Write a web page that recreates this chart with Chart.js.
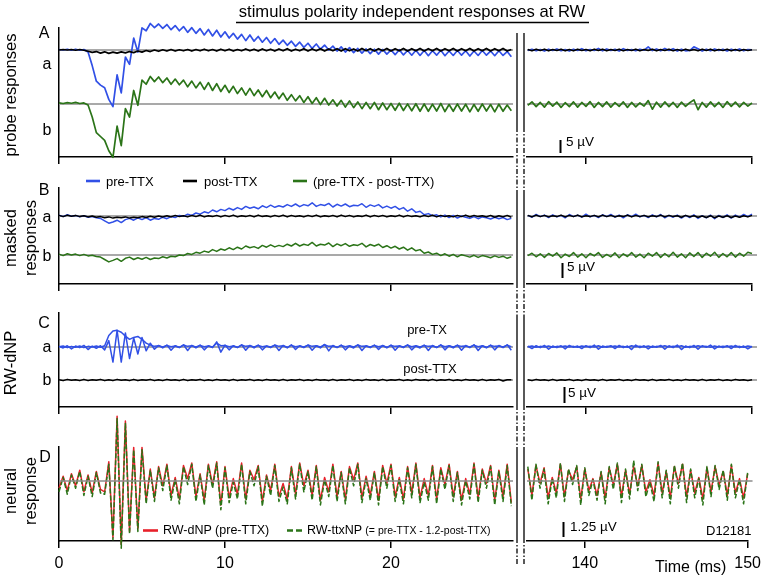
<!DOCTYPE html>
<html>
<head>
<meta charset="utf-8">
<script src="https://cdn.jsdelivr.net/npm/chart.js@4.4.0/dist/chart.umd.min.js"></script>
<style>
  body { margin: 0; background: #fff; }
  #fig { position: relative; width: 767px; height: 578px; overflow: hidden; font-family: "Liberation Sans", Arial, Helvetica, sans-serif; color: #000; }
  #fig canvas { position: absolute; }
  #fig svg { position: absolute; left: 0; top: 0; }
  .t { position: absolute; white-space: nowrap; line-height: 1; }
  .c { transform: translate(-50%, -50%); }
  .l { transform: translateY(-50%); }
  .r { transform: translate(-50%, -50%) rotate(-90deg); }
</style>
</head>
<body>
<div id="fig">
  <svg width="767" height="578">
    <!-- title underline -->
    <line x1="236" y1="22.5" x2="589" y2="22.5" stroke="#000" stroke-width="1.5"/>
    <!-- axis break marks -->
    <g stroke="#000" stroke-width="1.3">
      <path d="M517 33V127M524 33V127M517 192V283M524 192V283M517 318V405M524 318V405M517 452V538M524 452V538"/>
      <path stroke-dasharray="5 2 1.5 2" d="M517 127V192M524 127V192M517 283V318M524 283V318M517 405V452M524 405V452M517 538V566M524 538V566"/>
    </g>
    <!-- legend samples -->
    <line x1="86" y1="181" x2="100" y2="181" stroke="#3150e6" stroke-width="2.6"/>
    <line x1="183" y1="181" x2="197" y2="181" stroke="#000" stroke-width="2.6"/>
    <line x1="293" y1="181" x2="307" y2="181" stroke="#2b7418" stroke-width="2.6"/>
    <line x1="143" y1="530.5" x2="158" y2="530.5" stroke="#e8202a" stroke-width="2.6"/>
    <line x1="287" y1="530.5" x2="303" y2="530.5" stroke="#2b7418" stroke-width="2.6" stroke-dasharray="6 3"/>
  </svg>

  <div class="t c" style="left:412px;top:12px;font-size:16.6px">stimulus polarity independent responses at RW</div>

  <div class="t r" style="left:10px;top:95px;font-size:16.5px">probe responses</div>
  <div class="t r" style="left:10px;top:238px;font-size:16.5px">masked</div>
  <div class="t r" style="left:30px;top:238px;font-size:16.5px">responses</div>
  <div class="t r" style="left:10px;top:363px;font-size:16.5px">RW-dNP</div>
  <div class="t r" style="left:10px;top:491px;font-size:16.5px">neural</div>
  <div class="t r" style="left:30px;top:491px;font-size:16.5px">response</div>

  <div class="t c" style="left:44px;top:33px;font-size:16px">A</div>
  <div class="t c" style="left:47px;top:64px;font-size:16px">a</div>
  <div class="t c" style="left:47px;top:130px;font-size:16px">b</div>
  <div class="t c" style="left:44px;top:190px;font-size:16px">B</div>
  <div class="t c" style="left:47px;top:217px;font-size:16px">a</div>
  <div class="t c" style="left:47px;top:256px;font-size:16px">b</div>
  <div class="t c" style="left:44px;top:323px;font-size:16px">C</div>
  <div class="t c" style="left:47px;top:347px;font-size:16px">a</div>
  <div class="t c" style="left:47px;top:380px;font-size:16px">b</div>
  <div class="t c" style="left:45px;top:457px;font-size:16px">D</div>

  <div class="t l" style="left:106px;top:181px;font-size:13px">pre-TTX</div>
  <div class="t l" style="left:204px;top:181px;font-size:13px">post-TTX</div>
  <div class="t l" style="left:313px;top:181px;font-size:13px">(pre-TTX - post-TTX)</div>

  <div class="t c" style="left:427px;top:329px;font-size:13px">pre-TX</div>
  <div class="t c" style="left:430px;top:368px;font-size:13px">post-TTX</div>

  <div class="t l" style="left:163px;top:530px;font-size:12.5px">RW-dNP (pre-TTX)</div>
  <div class="t l" style="left:307px;top:530px;font-size:12.5px">RW-ttxNP <span style="font-size:10.5px">(= pre-TTX - 1.2-post-TTX)</span></div>

  <div class="t l" style="left:566px;top:142px;font-size:13.5px">5 µV</div>
  <div class="t l" style="left:567px;top:267px;font-size:13.5px">5 µV</div>
  <div class="t l" style="left:568px;top:393px;font-size:13.5px">5 µV</div>
  <div class="t l" style="left:570px;top:527px;font-size:13.5px">1.25 µV</div>
  <div class="t l" style="left:706px;top:530px;font-size:13px">D12181</div>
  <div class="t l" style="left:655px;top:567px;font-size:16px">Time (ms)</div>
</div>

<script>
// sampling grid (ms)
const dt = 0.25;
const leftStart = 0;
const rightStart = 136.5;
const leftRange = [0, 27.35];
const rightRange = [136.45, 150];
const leftTicks = [0, 10, 20];
const rightTicks = [140, 150];

// ---- A: probe responses (uV, relative to trace baseline) ----
const aBlueL = [0.2,0,0.3,-0.1,0.3,-0.1,0.2,-0.8,-6,-12,
  -13.5,-14.5,-19,-21.8,-9.6,-16.5,-2.7,-5.5,4.6,-0.8,
  8.5,7.4,10.2,8.6,10,8.3,9.8,7.8,9.4,7.4,
  9,6.8,8.6,6.4,8.2,5.8,7.9,5.4,7.6,5,
  7,4.6,6.4,4.2,6,3.6,5.8,3.4,5.2,3,
  4.8,2.6,4.4,2.2,3.8,1.8,3.4,1.4,3,1,
  2.6,0.6,2.3,0.3,1.9,0,1.5,-0.4,1.2,-0.8,
  0.9,-1,0.6,-1.2,0.4,-1.4,0.3,-1.6,0.2,-1.6,
  0,-1.8,0.1,-1.9,-0.2,-2,-0.1,-2.1,-0.2,-2.2,
  -0.3,-2,-0.1,-2.2,-0.4,-2.1,-0.2,-2,-0.3,-2.3,
  -0.4,-2.1,-0.2,-2,-0.4,-2.2,-0.3,-2.1,-0.6,-2.6];
const aBlueR = [-0.2,0.3,-0.3,0.2,-0.4,0.3,-0.2,0.4,-0.3,0.2,
  -0.4,0.3,-0.2,0.5,-0.3,0.2,-0.2,0.6,-0.3,0.4,
  -0.2,0.3,-0.4,0.5,-0.2,0.2,-0.3,0.3,-0.1,1.2,
  -0.2,0.4,-0.3,0.6,-0.2,0.5,-0.4,0.3,-0.3,-0.2,
  1.2,0.5,-0.4,0.3,-0.3,0.4,-0.2,0.3,-0.4,0.3,
  -0.2,0.4,-0.3,0.2,0.1];
const aBlackL = [0,0.2,0,0.2,-0.1,0.2,-0.1,-0.5,-0.9,-0.6,
  -1.2,-0.7,-1.3,-0.8,-1.2,-0.7,-1.1,-0.6,-1,-0.4,
  -0.8,-0.2,-0.6,0,-0.5,0.1,-0.4,0.2,-0.4,0.1,
  -0.3,0.2,-0.4,0.2,-0.3,0.3,-0.3,0.2,-0.4,0.3,
  -0.3,0.3,-0.4,0.2,-0.3,0.4,-0.3,0.3,-0.4,0.4,
  -0.3,0.3,-0.4,0.4,-0.3,0.5,-0.4,0.3,-0.3,0.5,
  -0.4,0.4,-0.3,0.5,-0.4,0.4,-0.3,0.5,-0.4,0.5,
  -0.3,0.4,-0.4,0.6,-0.3,0.5,-0.4,0.5,-0.3,0.6,
  -0.4,0.5,-0.3,0.6,-0.4,0.5,-0.3,0.6,-0.4,0.5,
  -0.3,0.6,-0.4,0.5,-0.3,0.6,-0.4,0.5,-0.3,0.6,
  -0.4,0.5,-0.3,0.6,-0.4,0.5,-0.3,0.6,-0.4,0.2];
const aBlackR = [0.2,-0.3,0.3,-0.2,0.3,-0.3,0.2,-0.2,0.3,-0.3,
  0.2,-0.3,0.3,-0.2,0.2,-0.3,0.3,-0.2,0.3,-0.3,
  0.2,-0.2,0.3,-0.3,0.2,-0.2,0.3,-0.3,0.2,-0.2,
  0.3,-0.3,0.2,-0.2,0.3,-0.3,0.2,-0.3,0.3,-0.2,
  0.2,-0.3,0.3,-0.2,0.3,-0.3,0.2,-0.2,0.3,-0.3,
  0.2,-0.3,0.2,-0.2,0.1];
const aGreenL = [0.4,0.2,0.5,0.3,0.6,0.2,0.4,-0.4,-5,-11,
  -12.5,-14,-18,-20.5,-8.5,-16,-1.8,-5,5.2,-0.5,
  9.2,7.6,10.6,8.6,10.4,8.2,10,7.6,9.6,7.4,
  9.2,6.6,8.8,6.2,8.4,5.6,8.2,5.2,7.8,4.8,
  7.2,4.4,6.8,4,6.2,3.4,6,3.2,5.4,2.8,
  5.2,2.4,4.6,2,4.2,1.4,3.6,1.2,3.2,0.6,
  2.8,0.2,2.4,-0.2,2.2,-0.4,1.6,-0.8,1.4,-1.2,
  1.2,-1.4,0.8,-1.8,0.6,-1.8,0.6,-2.2,0.4,-2.2,
  0.2,-2.4,0.3,-2.5,0,-2.6,0.1,-2.8,0,-2.8,
  -0.1,-2.7,0.2,-2.9,-0.2,-2.8,0,-2.7,-0.1,-3,
  -0.2,-2.8,0,-2.7,-0.2,-3,-0.1,-2.8,-0.4,-2.6];
const aGreenR = [-0.5,0.8,-1,0.6,-1.2,0.9,-0.8,0.7,-1.3,0.5,
  -1,0.8,-1.2,0.6,-0.9,0.9,-1.3,0.6,-1,0.8,
  -1.2,0.5,-0.9,0.8,-1.3,0.6,-1.1,0.4,-0.8,1.3,
  -2,0.7,-1.2,0.8,-1,0.6,-1.3,0.7,-0.9,0.5,
  1.6,-2.2,0.6,-1.2,0.8,-1,0.6,-1.3,0.9,-0.9,
  0.7,-1.1,0.6,-0.8,0.4];

// ---- B: masked responses ----
const bBlueL = [0.3,-0.2,0.4,-0.1,0.2,-0.3,0.1,-0.4,-0.2,-0.6,
  -0.8,-1.6,-2.4,-2,-1.4,-2.2,-1.2,-0.8,-1.4,-0.6,
  -1.2,-0.5,-1.4,-0.8,-1.1,-0.4,-0.9,-0.2,-0.5,0.2,
  -0.1,0.6,0.2,1,0.6,1.4,1,2,1.4,2.2,
  1.8,2.6,2,2.8,2.2,3.2,2.6,3,2.4,3.4,
  2.8,3.6,2.9,3.4,3,3.8,3.2,4,3.1,3.8,
  3.4,4.4,3.2,3.8,3.5,4.2,3,3.9,3.3,4,
  3.1,3.6,3.4,4.1,2.9,3.7,3.2,3.8,2.7,3.3,
  2.6,3.2,2.2,2.8,1.6,2.4,1.2,1.6,0.4,0.8,
  0.1,0.4,-0.3,0.3,-0.5,0.2,-0.7,0,-0.4,-0.8,
  -0.2,-0.9,-0.3,-0.6,-1,-0.4,-0.9,-0.5,-1.2,-0.8];
const bBlueR = [0.2,-0.4,0.5,-0.2,0.3,-0.5,0.4,-0.3,0.2,-0.6,
  0.5,-0.2,0.3,-0.4,0.6,-0.3,0.2,-0.5,0.4,-0.2,
  0.5,-0.4,0.3,-0.6,0.4,-0.2,0.6,-0.3,0.2,-0.5,
  0.4,-0.3,0.5,-0.6,0.2,-0.4,0.3,-0.7,0.2,-0.5,
  0.4,-0.8,0.1,-0.6,0.3,-0.9,0.2,-0.5,0.4,-0.7,
  0.3,-0.4,0.5,-0.2,0.6];
const bBlackL = [0.2,-0.2,0.3,-0.1,0.2,-0.2,0.1,-0.3,0,-0.4,
  -0.2,-0.6,-0.3,-0.7,-0.4,-0.6,-0.3,-0.7,-0.4,-0.6,
  -0.2,-0.5,-0.1,-0.4,0,-0.3,0.1,-0.3,0.2,-0.2,
  0.1,-0.3,0.2,-0.2,0.3,-0.3,0.1,-0.2,0.2,-0.3,
  0.2,-0.2,0.3,-0.3,0.1,-0.2,0.2,-0.3,0.3,-0.2,
  0.1,-0.3,0.2,-0.2,0.3,-0.3,0.2,-0.2,0.1,-0.3,
  0.2,-0.2,0.3,-0.3,0.1,-0.2,0.2,-0.3,0.3,-0.2,
  0.2,-0.3,0.1,-0.2,0.3,-0.3,0.2,-0.2,0.2,-0.3,
  0.1,-0.2,0.3,-0.3,0.2,-0.2,0.1,-0.3,0.2,-0.2,
  0.3,-0.3,0.2,-0.2,0.1,-0.3,0.2,-0.2,0.3,-0.3,
  0.2,-0.2,0.1,-0.3,0.2,-0.4,0.1,-0.3,0.2,-0.4];
const bBlackR = [0.2,-0.3,0.3,-0.2,0.2,-0.3,0.1,-0.2,0.3,-0.3,
  0.2,-0.2,0.3,-0.3,0.1,-0.2,0.2,-0.3,0.3,-0.2,
  0.2,-0.3,0.1,-0.2,0.3,-0.3,0.2,-0.2,0.2,-0.3,
  0.1,-0.2,0.3,-0.3,0.2,-0.2,0.1,-0.4,0.2,-0.3,
  0.1,-0.4,0,-0.5,0.1,-0.6,0,-0.4,0.1,-0.5,
  0,-0.4,0.1,-0.3,0.2];
const bGreenL = [0.3,-0.2,0.4,0,0.3,-0.2,0.2,-0.3,-0.1,-0.5,
  -0.7,-1.5,-2.3,-1.8,-1.2,-2.1,-1.1,-0.7,-1.5,-0.9,
  -1.4,-0.8,-1.5,-1,-1.2,-0.6,-1,-0.4,-0.6,0,
  -0.2,0.5,0.2,0.9,0.6,1.3,0.9,1.8,1.2,2,
  1.6,2.4,1.8,2.6,2,3,2.4,2.8,2.2,3.2,
  2.6,3.4,2.7,3.2,2.8,3.6,3,3.9,3,3.6,
  3.2,4.2,3,3.6,3.3,4,2.8,3.7,3.1,3.8,
  2.9,3.4,3.2,3.9,2.7,3.5,3,3.6,2.5,3.1,
  2.3,2.9,2,2.6,1.6,2.4,1.4,1.8,0.6,1,
  0.2,0.6,-0.2,0.4,-0.4,0.2,-0.6,0.1,-0.3,-0.7,
  -0.1,-0.8,-0.2,-0.5,-0.9,-0.3,-0.8,-0.4,-1.1,-0.6];
const bGreenR = [-0.2,0.6,-0.6,0.4,-0.8,0.5,-0.4,0.7,-0.9,0.3,
  -0.5,0.8,-0.7,0.4,-0.9,0.5,-0.3,0.8,-0.8,0.2,
  -0.6,0.7,-0.9,0.4,-0.5,0.8,-0.7,0.3,-0.9,0.6,
  -0.4,0.8,-0.8,0.5,-0.6,0.9,-0.7,0.4,-0.9,0.7,
  -0.5,0.8,-0.8,0.6,-0.4,0.9,-0.8,0.5,-0.6,0.8,
  -0.7,0.6,-0.4,0.9,0.5];

// ---- C: RW-dNP ----
const cBlue1L = [0.2,-0.3,0.4,-0.6,0.3,-0.2,0.5,-0.8,0.3,-0.4,
  0.4,-0.9,2,-4.7,5.2,-4.7,4.4,-3.6,2.8,-2.2,
  3,-1.2,1.2,-0.7,0.5,-0.3,0.6,-1,0.4,-0.2,
  0.7,-1.1,0.5,-0.3,0.6,-0.9,0.4,-0.2,1.6,-1.6,
  0.6,-0.9,0.4,-0.2,0.7,-1,0.5,-0.3,0.6,-0.9,
  0.3,-0.2,0.6,-1.1,0.5,-0.3,0.7,-0.8,0.4,-0.2,
  0.6,-1,0.4,-0.3,0.8,-1.2,0.5,-0.2,0.6,-0.9,
  0.3,-0.3,0.7,-1.1,0.4,-0.2,0.6,-0.8,0.5,-0.3,
  0.6,-1,0.4,-0.2,0.7,-0.9,0.3,-0.3,0.6,-1.1,
  0.5,-0.2,0.7,-0.9,0.4,-0.3,0.6,-1,0.5,-0.2,
  0.7,-1.1,0.4,-0.3,0.6,-0.9,0.5,-0.2,0.7,-1];
const cBlue2L = [0.1,0.3,-0.2,0.2,-0.1,0.3,-0.2,0.2,0,0.3,
  -0.1,0.4,3.6,5,5.2,4.6,3.4,2.4,3,3.3,
  2.4,1.2,0.6,0.2,0.4,0,0.5,0.1,0.3,-0.1,
  0.6,0.2,0.4,0,0.5,0.1,0.3,0,1.2,0.4,
  0.5,0.1,0.3,-0.1,0.6,0.2,0.4,0,0.5,0.1,
  0.3,0,0.6,0.2,0.4,-0.1,0.5,0.1,0.3,0,
  0.6,0.2,0.4,0,0.7,0.2,0.3,-0.1,0.5,0.1,
  0.4,0,0.6,0.2,0.3,0,0.5,0.1,0.4,-0.1,
  0.5,0.2,0.3,0,0.6,0.1,0.4,0,0.5,0.2,
  0.3,-0.1,0.6,0.1,0.4,0,0.5,0.2,0.3,0,
  0.6,0.1,0.4,-0.1,0.5,0.2,0.3,0,0.6,0.1];
const cBlue1R = [0.3,-0.5,0.4,-0.2,0.5,-0.7,0.3,-0.2,0.4,-0.6,
  0.5,-0.1,0.3,-0.5,0.4,-0.2,0.6,-0.7,0.3,-0.1,
  0.4,-0.5,0.5,-0.2,0.3,-0.8,0.6,-0.2,0.4,-0.6,
  0.3,-0.1,0.5,-0.7,0.4,-0.2,0.6,-0.8,0.3,-0.2,
  0.5,-0.7,0.4,-0.1,0.6,-0.6,0.3,-0.2,0.4,-0.5,
  0.5,-0.2,0.3,-0.6,0.2];
const cBlue2R = [0.1,0.3,-0.1,0.2,0,0.3,-0.1,0.2,0.1,0.3,
  0,0.2,-0.1,0.3,0.1,0.2,0,0.4,-0.1,0.2,
  0.1,0.3,0,0.2,-0.1,0.4,0.1,0.2,0,0.3,
  -0.1,0.2,0.1,0.4,0,0.2,0.1,0.4,-0.1,0.2,
  0,0.4,0.1,0.2,-0.1,0.3,0,0.2,0.1,0.3,
  0,0.2,-0.1,0.3,0.1];
const cBlackL = [0.1,-0.2,0.2,-0.1,0.1,-0.2,0.2,-0.2,0.1,-0.1,
  0.2,-0.2,0.1,-0.2,0.2,-0.1,0.1,-0.2,0.2,-0.2,
  0.1,-0.1,0.2,-0.2,0.1,-0.2,0.2,-0.1,0.1,-0.2,
  0.2,-0.2,0.1,-0.1,0.2,-0.2,0.1,-0.2,0.2,-0.1,
  0.1,-0.2,0.2,-0.2,0.1,-0.1,0.2,-0.2,0.1,-0.2,
  0.2,-0.1,0.1,-0.2,0.2,-0.2,0.1,-0.1,0.2,-0.2,
  0.1,-0.2,0.2,-0.1,0.1,-0.2,0.2,-0.2,0.1,-0.1,
  0.2,-0.2,0.1,-0.2,0.2,-0.1,0.1,-0.2,0.2,-0.2,
  0.1,-0.1,0.2,-0.2,0.1,-0.2,0.2,-0.1,0.1,-0.2,
  0.2,-0.2,0.1,-0.1,0.2,-0.2,0.1,-0.2,0.2,-0.1,
  0.1,-0.2,0.2,-0.2,0.1,-0.1,0.2,-0.3,0.1,0.1];
const cBlackR = [0.1,-0.2,0.2,-0.1,0.1,-0.2,0.2,-0.2,0.1,-0.1,
  0.2,-0.2,0.1,-0.2,0.2,-0.1,0.1,-0.2,0.2,-0.2,
  0.1,-0.1,0.2,-0.2,0.1,-0.2,0.2,-0.1,0.1,-0.2,
  0.2,-0.2,0.1,-0.1,0.2,-0.2,0.1,-0.2,0.2,-0.1,
  0.1,-0.2,0.2,-0.2,0.1,-0.1,0.2,-0.2,0.1,-0.2,
  0.2,-0.1,0.1,-0.2,0.1];

// ---- D: neural response ----
const dRedL = [-0.6,0.4,-0.8,0.6,-0.4,0.9,-0.9,0.5,-1,0.8,
  -0.7,-0.9,1.6,-4.7,5.4,-5.3,5,-4.2,2.8,-4,
  2.8,-1.6,1,-1.4,1.2,-0.4,1.4,-1.2,0.3,-1.5,
  1.3,0.2,1.5,-1.3,0.6,-1.6,1.4,-0.3,1.6,-2,
  1.2,-1.4,0.2,-1.1,1.5,-1.5,0.9,0.1,1.3,-1.7,
  0.5,-0.8,1.4,-1.3,-0.2,-1.5,1.2,-1.1,1.5,-0.4,
  0.9,-1.2,1.3,-1.6,0.3,-0.9,1.4,-1.3,0.8,-1.5,
  1.2,0.1,1.5,-1.4,0.4,-1.2,0.8,-1.6,1.3,-0.2,
  1.4,-1.3,0.3,-1.5,1.2,-1,1.5,-1.4,0.2,-1.2,
  1.3,-1.5,1.1,-0.3,1.4,-1.3,0.8,-1.6,0.2,-1.1,
  1.5,-1.4,1,-0.2,1.3,-1.6,0.9,-1.3,1.4,-1.8];
const dGreenL = [-0.9,0.3,-1.1,0.5,-0.6,0.8,-1.2,0.4,-1.3,0.7,
  -1,-1.1,1.4,-4.9,5.2,-5.6,4.8,-4.4,2.6,-4.2,
  2.6,-1.9,0.9,-1.7,1.1,-0.8,1.3,-1.6,0.1,-1.9,
  1.2,-0.3,1.4,-1.7,0.5,-2,1.3,-0.6,1.5,-2.4,
  1.1,-1.8,-0.1,-1.5,1.4,-1.9,0.8,-0.4,1.2,-2.1,
  0.4,-1.2,1.3,-1.7,-0.5,-1.9,1.1,-1.5,1.4,-0.9,
  0.8,-1.6,1.2,-2,0.1,-1.3,1.3,-1.7,0.7,-1.9,
  1.1,-0.4,1.4,-1.8,0.2,-1.6,0.7,-2,1.2,-0.6,
  1.3,-1.7,0.1,-1.9,1.1,-1.4,1.4,-1.8,-0.1,-1.6,
  1.2,-1.9,1,-0.7,1.3,-1.7,0.7,-2,0,-1.5,
  1.4,-1.8,0.9,-0.6,1.2,-2,0.8,-1.7,1.3,-2.1];
const dRedR = [1,-1.2,1.3,-0.2,1.1,-1.4,0.3,-1,1.4,-1.3,
  0.9,0.1,1.2,-1.5,1,-0.8,0.2,-1.2,0.7,-1.4,
  1.1,-0.3,1.4,-1.3,0.9,-1.1,1.2,-0.4,1.3,-0.9,
  0.1,-1.2,1.5,-1,0.8,-1.4,1.2,-0.2,1.4,-1.3,
  0.9,-1,0.3,-1.5,1.1,-0.9,1.2,-0.3,0.8,-1.2,
  1.3,-1,0.2,-1.4,0.6];
const dGreenR = [1.2,-1.6,1.4,-0.6,1,-1.9,0.2,-1.4,1.5,-1.7,
  1,-0.3,1.3,-2,1.1,-1.2,0.1,-1.6,0.8,-1.9,
  1.2,-0.7,1.5,-1.8,1,-1.5,1.7,-0.8,1.4,-1.3,
  -0.1,-1.7,1.6,-1.4,0.9,-1.9,1.3,-0.6,1.5,-1.8,
  1,-1.4,0.2,-2,1.2,-1.3,1.3,-0.7,0.9,-1.6,
  1.4,-1.4,0.1,-1.9,0.7];

// colours
const BLUE = '#3150e6', BLACK = '#000000', GREEN = '#2b7418', RED = '#e8202a', GRAY = '#8c8c8c';

// panel layout: pixel rows of plot top / bottom axis / trace baselines, px per uV
const panels = [
  { top: 28, bottom: 157, rowA: 50, rowB: 104, k: 2.6, bar: { t: 138.44, px: 153, len: 5 }, lw: 1.7,
    traces: [
      { l: aBlackL, r: aBlackR, color: BLACK, row: 'A' },
      { l: aBlueL, r: aBlueR, color: BLUE, row: 'A' },
      { l: aGreenL, r: aGreenR, color: GREEN, row: 'B' }
    ] },
  { top: 188, bottom: 284, rowA: 216, rowB: 255, k: 3, bar: { t: 138.56, px: 278, len: 5 }, lw: 1.5,
    traces: [
      { l: bBlackL, r: bBlackR, color: BLACK, row: 'A' },
      { l: bBlueL, r: bBlueR, color: BLUE, row: 'A' },
      { l: bGreenL, r: bGreenR, color: GREEN, row: 'B' }
    ] },
  { top: 313, bottom: 407, rowA: 347, rowB: 380, k: 3.2, bar: { t: 138.68, px: 403, len: 5 }, lw: 1.5,
    traces: [
      { l: cBlue1L, r: cBlue1R, color: BLUE, row: 'A' },
      { l: cBlue2L, r: cBlue2R, color: BLUE, row: 'A' },
      { l: cBlackL, r: cBlackR, color: BLACK, row: 'B' }
    ] },
  { top: 447, bottom: 541, rowA: 481, rowB: null, k: 12, bar: { t: 138.68, px: 537, len: 1.25 }, lw: 1.5, labels: true, baseOnTop: true,
    traces: [
      { l: dGreenL, r: dGreenR, color: GREEN, row: 'A', dash: [5, 2] },
      { l: dRedL, r: dRedR, color: RED, row: 'A' }
    ] }
];

const scaleBar = {
  id: 'scaleBar',
  afterDatasetsDraw(chart, args, opts) {
    const x = chart.scales.x, y = chart.scales.y;
    const px = Math.round(x.getPixelForValue(opts.t)) + 0.5;
    const ctx = chart.ctx;
    ctx.save();
    ctx.strokeStyle = '#000';
    ctx.lineWidth = 2;
    ctx.beginPath();
    ctx.moveTo(px, y.getPixelForValue(opts.v0));
    ctx.lineTo(px, y.getPixelForValue(opts.v0 + opts.len));
    ctx.stroke();
    ctx.restore();
  }
};

function points(vals, start, off) {
  return vals.map((v, i) => ({ x: start + i * dt, y: v + off }));
}

function makeChart(p, isLeft) {
  const range = isLeft ? leftRange : rightRange;
  const axL = isLeft ? 59 : 527, axR = isLeft ? 513 : 752;
  const padT = 42, padL = isLeft ? 20 : 6, padR = isLeft ? 4 : 15;
  const axisH = p.labels ? 34 : 10;
  const w = axR - axL + padL + padR;
  const h = padT + (p.bottom - p.top) + axisH;

  const cv = document.createElement('canvas');
  cv.width = w; cv.height = h;
  cv.style.left = (axL - padL) + 'px';
  cv.style.top = (p.top - padT) + 'px';
  document.getElementById('fig').insertBefore(cv, document.querySelector('#fig svg'));

  const yMax = (p.rowA - p.top) / p.k;
  const yMin = -(p.bottom - p.rowA) / p.k;
  const offB = p.rowB == null ? 0 : -(p.rowB - p.rowA) / p.k;
  const start = isLeft ? leftStart : rightStart;
  const xEnd = isLeft ? range[1] : range[1] + 0.3;

  const datasets = p.traces.map(tr => ({
    data: points(isLeft ? tr.l : tr.r, start, tr.row === 'A' ? 0 : offB),
    borderColor: tr.color,
    borderWidth: p.lw,
    borderDash: tr.dash || [],
    clip: false
  }));
  const baseRows = p.rowB == null ? [0] : [0, offB];
  const bases = baseRows.map(v => ({
    data: [{ x: range[0], y: v }, { x: xEnd, y: v }],
    borderColor: GRAY,
    borderWidth: 1.5,
    clip: false
  }));
  const all = p.baseOnTop ? bases.concat(datasets) : datasets.concat(bases);

  const plugins = [];
  const opts = {
    responsive: false,
    animation: false,
    parsing: false,
    layout: { padding: { top: padT, left: padL, right: padR, bottom: 0 } },
    elements: { point: { radius: 0 }, line: { tension: 0, borderJoinStyle: 'round' } },
    plugins: { legend: { display: false }, tooltip: { enabled: false } },
    scales: {
      x: {
        type: 'linear', min: range[0], max: range[1],
        afterBuildTicks: s => { s.ticks = (isLeft ? leftTicks : rightTicks).map(v => ({ value: v })); },
        afterFit: s => { s.height = axisH; },
        grid: { display: true, drawOnChartArea: false, drawTicks: true, tickLength: 7, color: '#000', lineWidth: 1.5 },
        border: { display: true, color: '#000', width: 1.5 },
        ticks: { display: !!p.labels, color: '#000', padding: 6, maxRotation: 0,
                 font: { family: 'Liberation Sans', size: 16 } }
      },
      y: {
        type: 'linear', min: yMin, max: yMax,
        display: isLeft,
        afterFit: s => { s.width = 0; },
        grid: { display: false },
        ticks: { display: false },
        border: { display: true, color: '#000', width: 1.5 }
      }
    }
  };
  if (!isLeft) {
    plugins.push(scaleBar);
    const v0 = -(p.bar.px - p.rowA) / p.k;
    opts.plugins.scaleBar = { t: p.bar.t, v0: v0, len: p.bar.len };
  }
  new Chart(cv, { type: 'line', data: { datasets: all }, options: opts, plugins: plugins });
}

panels.forEach(p => { makeChart(p, true); makeChart(p, false); });
</script>
</body>
</html>
